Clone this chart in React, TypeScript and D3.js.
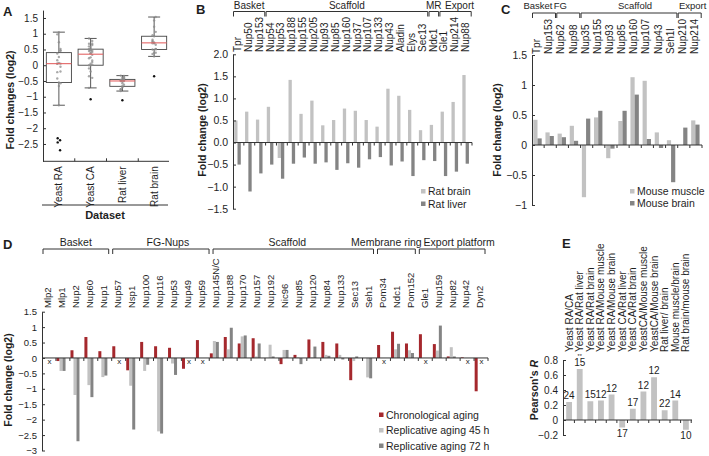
import { useEffect, useRef } from 'react';
import * as d3 from 'd3';

const FONT = '"Liberation Sans", Arial, sans-serif';
const INK = '#1e1e1e';
const AXIS = '#333';
const LIGHT = '#c2c2c2';
const DARK = '#848484';
const RED = '#a5282d';

// ---- A: box plots
const boxCats = ['Yeast RA', 'Yeast CA', 'Rat liver', 'Rat brain'];
const boxHigh = [1.05, 0.85, -0.33, 1.53];
const boxQ3 = [0.4, 0.51, -0.45, 0.92];
const boxMedian = [0.05, 0.35, -0.5, 0.71];
const boxQ1 = [-0.55, 0.0, -0.67, 0.5];
const boxLow = [-1.27, -0.72, -0.82, 0.28];
const boxOutliers = [[-2.32, -2.38, -2.45, -2.7], [-1.08], [-1.11], [-0.35]];
const aTicks = [1.5, 1, 0.5, 0, -0.5, -1, -1.5, -2, -2.5];

// ---- B: rat
const bCats = ['Tpr', 'Nup50', 'Nup153', 'Nup54', 'Nup53', 'Nup188', 'Nup155', 'Nup205', 'Nup93', 'Nup85', 'Nup160',
    'Nup37', 'Nup107', 'Nup133', 'Nup43', 'Aladin', 'Elys', 'Sec13', 'Ndc1', 'Gle1', 'Nup214', 'Nup88'];
const ratBrain = [0.5, 0.7, 0.52, 0.81, -0.35, 1.42, 0.65, 0.95, 0.39, 0.51, 0.77, 0.72, 0.51, 0.36, 1.22, 1.06, 0.74, 0.28, 0.4, 0.7, 0.92, 1.53];
const ratLiver = [-0.5, -1.11, -0.7, -0.5, -0.82, -0.48, -0.34, -0.48, -0.45, -0.62, -0.47, -0.57, -0.38, -0.33, -0.52, -0.43, -0.76, -0.4, -0.42, -0.76, -0.66, -0.48];
const bGroupNames = ['Basket', 'Scaffold', 'MR', 'Export'];
const bGroupSpans = [[0, 2], [3, 17], [18, 18], [19, 21]];
const bTicks = [2, 1.5, 1, 0.5, 0, -0.5, -1, -1.5];

// ---- C: mouse
const cCats = ['Tpr', 'Nup153', 'Nup62', 'Nup98', 'Nup35', 'Nup155', 'Nup93', 'Nup85', 'Nup160', 'Nup107', 'Nup43', 'Seh1l', 'Nup210', 'Nup214'];
const mouseMuscle = [0.42, 0.21, 0.19, 0.32, -0.87, 0.46, -0.22, 0.4, 1.13, 1.07, 0.21, 0.08, 0, 0.41];
const mouseBrain = [0.11, 0.15, 0.13, 0.07, 0.44, 0.57, -0.06, 0.57, 0.84, 0.1, -0.05, -0.62, 0.29, 0.34];
const cGroupNames = ['Basket', 'FG', 'Scaffold', 'Export'];
const cGroupSpans = [[0, 1], [2, 3], [4, 11], [12, 13]];
const cTicks = [1.5, 1, 0.5, 0, -0.5, -1];

// ---- D: yeast
const dCats = ['Mlp2', 'Mlp1', 'Nup2', 'Nup60', 'Nup1', 'Nup57', 'Nsp1', 'Nup100', 'Nup116', 'Nup53', 'Nup49', 'Nup59',
    'Nup145N/C', 'Nup188', 'Nup170', 'Nup157', 'Nup192', 'Nic96', 'Nup85', 'Nup120', 'Nup84', 'Nup133', 'Sec13', 'Seh1',
    'Pom34', 'Ndc1', 'Pom152', 'Gle1', 'Nup159', 'Nup82', 'Nup42', 'Dyn2'];
const chrono = [null, -0.1, 0.25, 0.68, 0.22, 0.38, -0.4, 0.52, 0.38, 0.33, -0.35, 0.58, 0.15, 0.68, 0.47, 0.64,
    0, -0.2, 0.1, 0.6, 0.52, 0.47, -0.72, 0, 0.42, 0.85, 0.47, 0.77, 0.45, 0.05, 0.02, -1.08];
const rep45 = [null, -0.42, -1.2, -0.88, -0.62, null, -0.9, -0.42, -2.38, -0.18, null, null, 0.55, 0.28, 0.7, 0.05,
    0.43, 0.26, 0.02, 0.02, 0.1, 0.1, -0.1, -0.63, null, 0.28, 0.25, null, 0.24, 0.35, null, null];
const rep72 = [null, -0.42, -2.7, -1.27, -0.57, null, -2.32, -0.22, -2.45, -0.55, null, null, 0.52, 0.98, 0.73, 0.47,
    0.05, 0.26, -0.2, 0.37, 0.07, -0.05, 0.05, -0.66, null, 0.46, 0.16, null, 1.05, 0.05, null, null];
const dSeriesNames = ['Chronological aging', 'Replicative aging 45 h', 'Replicative aging 72 h'];
const dGroupNames = ['Basket', 'FG-Nups', 'Scaffold', 'Membrane ring', 'Export platform'];
const dGroupSpans = [[0, 5], [5, 12.2], [12.2, 24], [24, 27], [27, 32]];
const dTicks = [1.5, 1, 0.5, 0, -0.5, -1, -1.5, -2, -2.5, -3];

// ---- E: correlations
const eCats = ['Yeast RA/CA', 'Yeast RA/Rat liver', 'Yeast RA/Rat brain', 'Yeast RA/Mouse muscle', 'Yeast RA/Mouse brain',
    'Yeast CA/Rat liver', 'Yeast CA/Rat brain', 'YeastCA/Mouse muscle', 'YeastCA/Mouse brain', 'Rat liver/ brain',
    'Mouse muscle/brain', 'Rat brain/mouse brain'];
const pearsonR = [0.24, 0.68, 0.25, 0.26, 0.34, -0.1, 0.15, 0.38, 0.57, 0.13, 0.26, -0.13];
const pairN = [24, 15, 15, 12, 12, 17, 17, 12, 12, 22, 14, 10];
const eStars = ['', '**', '', '', '', '', '', '', '', '', '', ''];
const eTicks = [0.8, 0.6, 0.4, 0.2, 0, -0.2];

const fmtG = d3.format('~g');
const fmt1 = d3.format('.1f');

type AxisProps = {
    scale: d3.ScaleLinear<number, number>;
    x: number;
    ticks: number[];
    format: (d: number) => string;
    fontSize: number;
};

function LeftAxis({ scale, x, ticks, format, fontSize }: AxisProps) {
    const ref = useRef<SVGGElement | null>(null);
    useEffect(() => {
        if (!ref.current) return;
        const g = d3.select(ref.current);
        g.selectAll('*').remove();
        g.call(
            d3.axisLeft(scale)
                .tickValues(ticks)
                .tickFormat(d => format(d as number))
                .tickSizeInner(-3)
                .tickSizeOuter(0)
                .tickPadding(5)
        );
        g.attr('font-family', FONT).attr('font-size', fontSize);
        g.selectAll('path, line').attr('stroke', AXIS);
        g.selectAll('text').attr('fill', INK);
    });
    return <g ref={ref} transform={`translate(${x},0)`} />;
}

function ZeroLine({ x0, x1, y, marks }: { x0: number; x1: number; y: number; marks: number[] }) {
    return (
        <g stroke={AXIS}>
            <line x1={x0} x2={x1} y1={y} y2={y} />
            {marks.map((m, i) => <line key={i} x1={m} x2={m} y1={y} y2={y + 3} />)}
        </g>
    );
}

function Bracket({ x0, x1, y, label, ty, shift, size }: { x0: number; x1: number; y: number; label: string; ty: number; shift: number; size: number }) {
    return (
        <g>
            <path d={`M${x0},${y + 5}V${y}H${x1}V${y + 5}`} fill="none" stroke={AXIS} />
            <text x={(x0 + x1) / 2 + shift} y={ty} textAnchor="middle" fontSize={size} fill={INK}>{label}</text>
        </g>
    );
}

function VLabel({ x, y, text, size, anchor = 'start' }: { x: number; y: number; text: string; size: number; anchor?: string }) {
    return (
        <text transform={`translate(${x},${y}) rotate(-90)`} dy="0.35em" textAnchor={anchor} fontSize={size} fill={INK}>{text}</text>
    );
}

function barRect(y: d3.ScaleLinear<number, number>, v: number) {
    const y0 = y(0);
    const yv = y(v);
    return { y: Math.min(y0, yv), height: Math.abs(yv - y0) };
}

function PanelA() {
    const y = d3.scaleLinear().domain([-3.05, 1.75]).range([161.3, 10.1]);
    const x = d3.scaleBand<string>().domain(boxCats).range([43, 170]).paddingInner(0.21).paddingOuter(0.105);
    const step = x.step();
    const points = [
        rep72.filter((v): v is number => v !== null),
        chrono.filter((v): v is number => v !== null),
        ratLiver,
        ratBrain,
    ];
    const yAxisBottom = y(-3.05);
    return (
        <g>
            <text x={3} y={16} fontSize={13} fontWeight="bold" fill={INK}>A</text>
            <LeftAxis scale={y} x={43} ticks={aTicks} format={fmtG} fontSize={10} />
            <g stroke={AXIS}>
                <line x1={43} x2={169} y1={yAxisBottom} y2={yAxisBottom} />
                {boxCats.slice(0, -1).map((c, i) => {
                    const bx = (x(c) as number) - x.paddingInner() * step / 2 + step;
                    return <line key={i} x1={bx} x2={bx} y1={yAxisBottom} y2={yAxisBottom - 3} />;
                })}
            </g>
            {boxCats.map((c, i) => {
                const x0 = x(c) as number;
                const bw = x.bandwidth();
                const cx = x0 + bw / 2;
                const capW = 12;
                const inRange = points[i].filter(v => v >= boxLow[i] && v <= boxHigh[i]);
                return (
                    <g key={c}>
                        <g stroke="#444" strokeWidth={0.9}>
                            <line x1={cx} x2={cx} y1={y(boxHigh[i])} y2={y(boxQ3[i])} />
                            <line x1={cx} x2={cx} y1={y(boxQ1[i])} y2={y(boxLow[i])} />
                            <line x1={cx - capW / 2} x2={cx + capW / 2} y1={y(boxHigh[i])} y2={y(boxHigh[i])} />
                            <line x1={cx - capW / 2} x2={cx + capW / 2} y1={y(boxLow[i])} y2={y(boxLow[i])} />
                            <rect x={x0} width={bw} y={y(boxQ3[i])} height={y(boxQ1[i]) - y(boxQ3[i])} fill="#fff" />
                        </g>
                        {inRange.map((v, j) => (
                            <circle key={j} cx={cx + ((j % 3) - 1) * 1.6} cy={y(v)} r={1.2} fill="#8c8c8c" opacity={0.75} />
                        ))}
                        <line x1={x0} x2={x0 + bw} y1={y(boxMedian[i])} y2={y(boxMedian[i])} stroke="#e36464" strokeWidth={1.1} />
                        {boxOutliers[i].map((v, j) => (
                            <circle key={j} cx={cx + (boxOutliers[i].length > 1 ? (j % 2 ? 1.2 : -1.2) : 0)} cy={y(v)} r={1.2} fill="#111" />
                        ))}
                        <VLabel x={cx} y={yAxisBottom + 5} text={c} size={10} anchor="end" />
                    </g>
                );
            })}
            <line x1={42} x2={168} y1={205} y2={205} stroke={AXIS} />
            <text x={105} y={219} textAnchor="middle" fontSize={11} fontWeight="bold" fill={INK}>Dataset</text>
            <text transform="translate(14,100) rotate(-90)" textAnchor="middle" fontSize={10.5} fontWeight="bold" fill={INK}>Fold changes (log2)</text>
        </g>
    );
}

type PairProps = {
    cats: string[];
    a: number[];
    b: number[];
    xRange: [number, number];
    y: d3.ScaleLinear<number, number>;
    inner: [number, number];
    labelDx: number;
    labelBottom: number;
};

function PairBars({ cats, a, b, xRange, y, inner, labelDx, labelBottom }: PairProps) {
    const x = d3.scaleBand<string>().domain(cats).range(xRange);
    const sub = d3.scaleBand<string>().domain(['a', 'b']).range(inner);
    const step = x.step();
    return (
        <g>
            {cats.map((c, i) => {
                const x0 = x(c) as number;
                return (
                    <g key={c}>
                        <rect x={x0 + (sub('a') as number)} width={sub.bandwidth()} {...barRect(y, a[i])} fill={LIGHT} />
                        <rect x={x0 + (sub('b') as number)} width={sub.bandwidth()} {...barRect(y, b[i])} fill={DARK} />
                        <VLabel x={x0 + labelDx} y={labelBottom} text={c} size={10} />
                    </g>
                );
            })}
            <ZeroLine x0={xRange[0]} x1={xRange[1]} y={y(0)} marks={cats.map(c => (x(c) as number) + step)} />
        </g>
    );
}

function PanelB() {
    const y = d3.scaleLinear().domain([-1.5, 2]).range([208.7, 54.3]);
    const xRange: [number, number] = [233, 472];
    const x = d3.scaleBand<string>().domain(bCats).range(xRange);
    return (
        <g>
            <text x={196} y={14} fontSize={13} fontWeight="bold" fill={INK}>B</text>
            {bGroupNames.map((g, i) => (
                <Bracket key={g} label={g} x0={(x(bCats[bGroupSpans[i][0]]) as number) + 0.5}
                    x1={(x(bCats[bGroupSpans[i][1]]) as number) + x.step() - 0.8} y={11.5} ty={9} shift={i === 3 ? 4 : 0} size={10} />
            ))}
            <PairBars cats={bCats} a={ratBrain} b={ratLiver} xRange={xRange} y={y} inner={[1.2, 7.8]} labelDx={4.5} labelBottom={52} />
            <LeftAxis scale={y} x={233} ticks={bTicks} format={fmt1} fontSize={10.5} />
            <text transform="translate(206,130) rotate(-90)" textAnchor="middle" fontSize={10.5} fontWeight="bold" fill={INK}>Fold change (log2)</text>
            <Legend x={421} ys={[191.5, 204]} names={['Rat brain', 'Rat liver']} colors={[LIGHT, DARK]} />
        </g>
    );
}

const cLabelShift = [-6, -8, 6, 3];

function PanelC() {
    const y = d3.scaleLinear().domain([-1, 1.5]).range([205, 55]);
    const xRange: [number, number] = [532, 702];
    const x = d3.scaleBand<string>().domain(cCats).range(xRange);
    return (
        <g>
            <text x={501} y={14} fontSize={13} fontWeight="bold" fill={INK}>C</text>
            {cGroupNames.map((g, i) => (
                <Bracket key={g} label={g} x0={(x(cCats[cGroupSpans[i][0]]) as number) + 0.5}
                    x1={(x(cCats[cGroupSpans[i][1]]) as number) + x.step() - 0.8} y={13} ty={8.5} shift={cLabelShift[i]} size={9.5} />
            ))}
            <PairBars cats={cCats} a={mouseMuscle} b={mouseBrain} xRange={xRange} y={y} inner={[1.3, 9.7]} labelDx={4.7} labelBottom={54} />
            <LeftAxis scale={y} x={532} ticks={cTicks} format={fmtG} fontSize={10.5} />
            <text transform="translate(501,130) rotate(-90)" textAnchor="middle" fontSize={10.5} fontWeight="bold" fill={INK}>Fold change (log2)</text>
            <Legend x={630} ys={[191.5, 203.5]} names={['Mouse muscle', 'Mouse brain']} colors={[LIGHT, DARK]} />
        </g>
    );
}

function Legend({ x, ys, names, colors }: { x: number; ys: number[]; names: string[]; colors: string[] }) {
    return (
        <g>
            {names.map((n, i) => (
                <g key={n}>
                    <rect x={x} y={ys[i] - 2.5} width={4.5} height={4.5} fill={colors[i]} />
                    <text x={x + 7} y={ys[i] + 3.8} fontSize={10.5} fill={INK}>{n}</text>
                </g>
            ))}
        </g>
    );
}

const dLabelShift = [0, 7, -6, -10, 7];

function PanelD() {
    const y = d3.scaleLinear().domain([-3, 1.5]).range([450.5, 311.7]);
    const xRange: [number, number] = [42, 488];
    const x = d3.scaleBand<string>().domain(dCats).range(xRange);
    const slot = d3.scaleLinear().domain([0, dCats.length]).range(xRange);
    const sub = d3.scaleBand<number>().domain([0, 1, 2]).range([0.6, 9.6]);
    const series = [chrono, rep45, rep72];
    const colors = [RED, LIGHT, DARK];
    const step = x.step();
    return (
        <g>
            <text x={3} y={249} fontSize={13} fontWeight="bold" fill={INK}>D</text>
            {dGroupNames.map((g, i) => (
                <Bracket key={g} label={g} x0={slot(dGroupSpans[i][0]) + 1} x1={slot(dGroupSpans[i][1]) - 3}
                    y={249} ty={246} shift={dLabelShift[i]} size={10.5} />
            ))}
            {dCats.map((c, i) => {
                const x0 = x(c) as number;
                return (
                    <g key={c}>
                        {series.map((s, k) => {
                            const v = s[i];
                            if (v === null) return null;
                            return <rect key={k} x={x0 + (sub(k) as number)} width={sub.bandwidth()} {...barRect(y, v)} fill={colors[k]} />;
                        })}
                        {rep45[i] === null && (
                            <text x={x0 + 7.5} y={y(0) + 6.5} textAnchor="middle" fontSize={8} fill={INK}>x</text>
                        )}
                        <VLabel x={x0 + 6} y={308} text={c} size={9.5} />
                    </g>
                );
            })}
            <ZeroLine x0={xRange[0]} x1={xRange[1]} y={y(0)} marks={dCats.map(c => (x(c) as number) + step)} />
            <LeftAxis scale={y} x={42} ticks={dTicks} format={fmtG} fontSize={9.5} />
            <text transform="translate(12,380) rotate(-90)" textAnchor="middle" fontSize={10.5} fontWeight="bold" fill={INK}>Fold change (log2)</text>
            <Legend x={379} ys={[415, 430.5, 446]} names={dSeriesNames} colors={colors} />
        </g>
    );
}

function PanelE() {
    const y = d3.scaleLinear().domain([-0.2, 0.8]).range([435, 360]);
    const xRange: [number, number] = [563, 692];
    const x = d3.scaleBand<string>().domain(eCats).range(xRange).paddingInner(0.45).paddingOuter(0.3);
    const step = x.step();
    const bw = x.bandwidth();
    return (
        <g>
            <text x={562} y={248} fontSize={13} fontWeight="bold" fill={INK}>E</text>
            {eCats.map((c, i) => {
                const x0 = x(c) as number;
                const cx = x0 + bw / 2;
                const r = barRect(y, pearsonR[i]);
                const pos = pearsonR[i] >= 0;
                return (
                    <g key={c}>
                        <rect x={x0} width={bw} {...r} fill={LIGHT} />
                        <text x={cx} y={pos ? r.y - 3 : r.y + r.height + 9} textAnchor="middle" fontSize={10} fill={INK}>{pairN[i]}</text>
                        {eStars[i] && <text x={cx} y={r.y - 11.5} textAnchor="middle" fontSize={5.5} fill={INK}>{eStars[i]}</text>}
                        <VLabel x={cx} y={352} text={c} size={10} />
                    </g>
                );
            })}
            <ZeroLine x0={xRange[0]} x1={xRange[1]} y={y(0)} marks={eCats.map(c => (x(c) as number) + bw + (step - bw) / 2)} />
            <LeftAxis scale={y} x={563} ticks={eTicks} format={d => (d === 0 ? '0' : fmt1(d))} fontSize={10} />
            <text transform="translate(538,390) rotate(-90)" textAnchor="middle" fontSize={10.5} fontWeight="bold" fill={INK}>
                Pearson's <tspan fontStyle="italic">R</tspan>
            </text>
        </g>
    );
}

export default function App() {
    return (
        <svg width={709} height={456} fontFamily={FONT}
            style={{ position: 'absolute', left: 0, top: 0, background: 'white' }}>
            <PanelA />
            <PanelB />
            <PanelC />
            <PanelD />
            <PanelE />
        </svg>
    );
}
